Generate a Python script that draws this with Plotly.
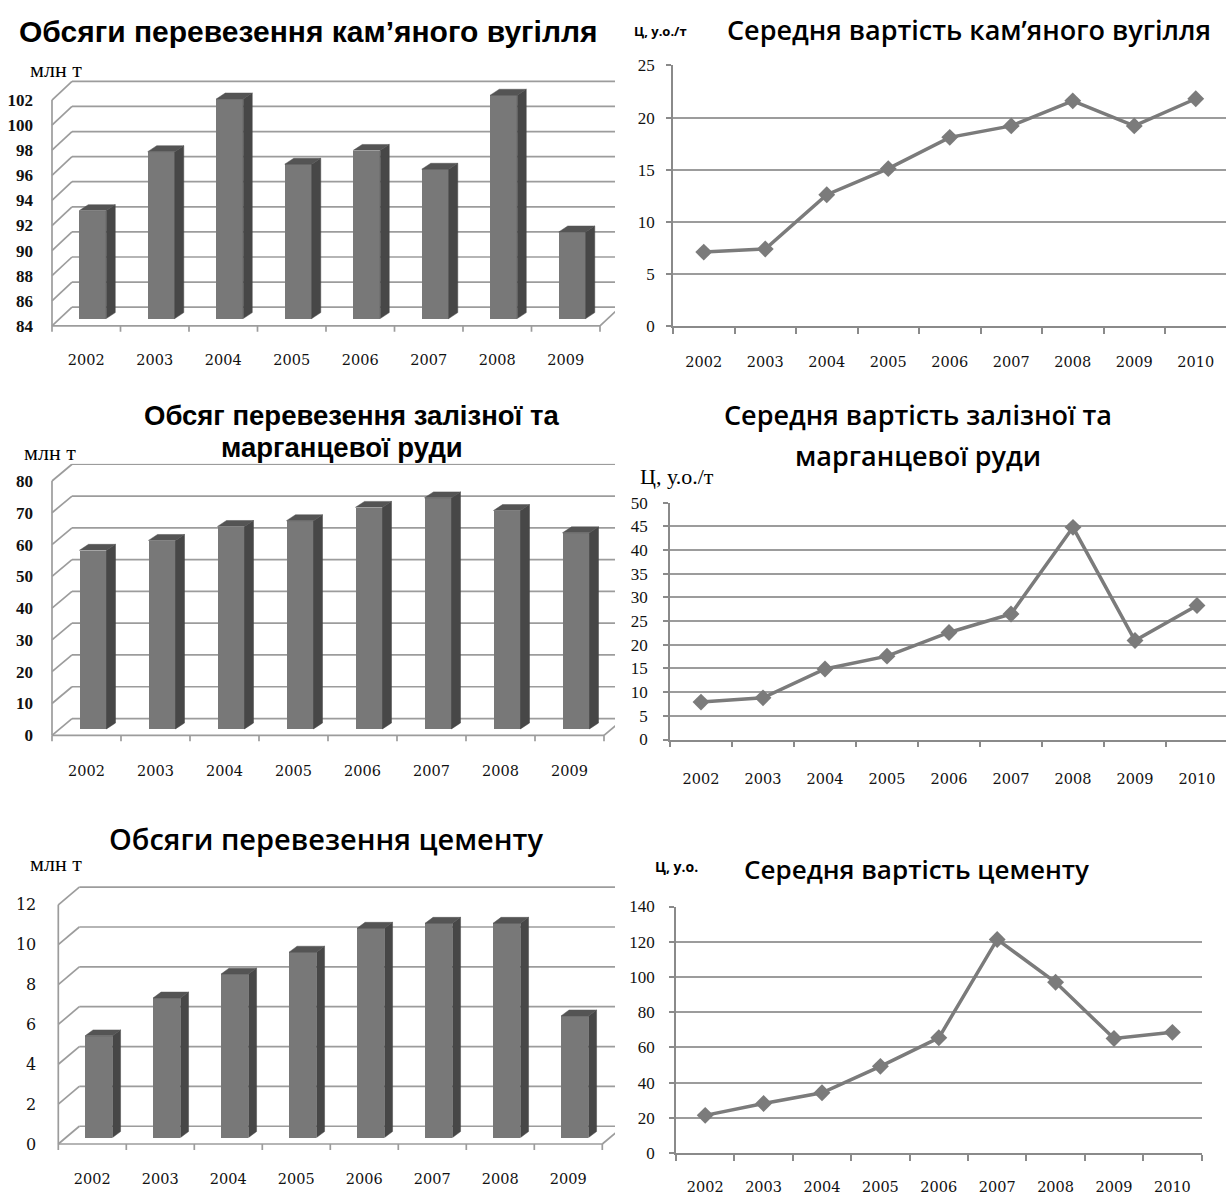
import plotly.graph_objects as go

W, H = 1226, 1196

# ---------------- data ----------------
years_8 = ["2002", "2003", "2004", "2005", "2006", "2007", "2008", "2009"]
years_9 = ["2002", "2003", "2004", "2005", "2006", "2007", "2008", "2009", "2010"]

coal_volume = [92.6, 97.3, 101.5, 96.3, 97.4, 95.9, 101.8, 90.9]
coal_volume_ticks = [84, 86, 88, 90, 92, 94, 96, 98, 100, 102]

coal_price = [7.1, 7.4, 12.6, 15.1, 18.1, 19.2, 21.6, 19.2, 21.8]
coal_price_ticks = [0, 5, 10, 15, 20, 25]

ore_volume = [56.2, 59.3, 63.7, 65.5, 69.7, 72.7, 68.7, 61.7]
ore_volume_ticks = [0, 10, 20, 30, 40, 50, 60, 70, 80]

ore_price = [7.9, 8.8, 14.9, 17.6, 22.6, 26.5, 44.8, 20.9, 28.3]
ore_price_ticks = [0, 5, 10, 15, 20, 25, 30, 35, 40, 45, 50]

cement_volume = [5.1, 7.0, 8.2, 9.3, 10.5, 10.75, 10.75, 6.1]
cement_volume_ticks = [0, 2, 4, 6, 8, 10, 12]

cement_price = [21.5, 28.2, 34.3, 49.3, 65.5, 121.3, 97.0, 65.1, 68.6]
cement_price_ticks = [0, 20, 40, 60, 80, 100, 120, 140]

# ---------------- styles ----------------
GRID = "#9c9c9c"
AXIS = "#8a8a8a"
SERIES = "#7b7b7b"
FRONT = "#787878"
SIDE = "#474747"
TOP = "#545454"

BOLD_SANS = "Liberation Sans"
HUMAN_SANS = "Open Sans"
SERIF = "Liberation Serif"
YEAR_FONT = dict(family="DejaVu Serif", size=14.5, color="#111")

fig = go.Figure()
layout = {}
shapes = []
annotations = []


def fx(p):
    return p / W


def fy(p):
    return 1 - p / H


def axis_names(n):
    if n == 1:
        return "x", "y", "xaxis", "yaxis"
    return f"x{n}", f"y{n}", f"xaxis{n}", f"yaxis{n}"


def bar3d(n, cats, vals, ticks, g, ytick_font, x_standoff, y_standoff):
    xa, ya, xk, yk = axis_names(n)
    L, R, w, B, T, k = g["L"], g["R"], g["w"], g["B"], g["T"], g["k"]
    bdx, bdy = g["back"][0] / w, g["back"][1] / k
    fdx, fdy = g["front"][0] / w, g["front"][1] / k
    sdx, sdy = g["side"][0] / w, g["side"][1] / k
    bw = g["barw"] / w
    y0 = ticks[0]
    pad_l, pad_b = 4, 9
    xmax = (R - L) / w
    ncat = len(cats)

    layout[xk] = dict(
        domain=[fx(L - pad_l), fx(R)], range=[-pad_l / w, xmax], anchor=ya,
        tickmode="array", tickvals=[i + 0.5 for i in range(ncat)], ticktext=cats,
        showline=False, showgrid=False, zeroline=False, ticks="",
        tickfont=YEAR_FONT, ticklabelstandoff=x_standoff, fixedrange=True,
    )
    layout[yk] = dict(
        domain=[fy(B + pad_b), fy(T)], range=[y0 - pad_b / k, y0 + (B - T) / k],
        anchor=xa, tickmode="array", tickvals=ticks, ticktext=[str(t) for t in ticks],
        showline=False, showgrid=False, zeroline=False, ticks="",
        tickfont=ytick_font, ticklabelstandoff=y_standoff, fixedrange=True,
    )

    def seg(x0, y0_, x1, y1):
        shapes.append(dict(type="line", xref=xa, yref=ya, x0=x0, y0=y0_, x1=x1, y1=y1,
                           layer="below", line=dict(color=GRID, width=1.7)))

    for v in ticks:
        seg(bdx, v + bdy, xmax + 1, v + bdy)      # back wall grid line
        seg(0, v, bdx, v + bdy)                   # side wall diagonal
    seg(0, y0, 0, ticks[-1])                      # front vertical edge
    seg(0, y0, ncat, y0)                          # floor front edge
    seg(ncat, y0, ncat + bdx, y0 + bdy)           # floor right edge
    for i in range(ncat + 1):
        seg(i, y0, i, y0 - 6 / k)                 # category tick marks

    base = y0 + fdy
    xs = [i + 0.5 + fdx for i in range(ncat)]
    fig.add_trace(go.Bar(
        x=xs, y=[v - y0 for v in vals], base=base, width=bw,
        marker=dict(color=FRONT, line=dict(width=0)),
        xaxis=xa, yaxis=ya, showlegend=False, hoverinfo="skip",
    ))
    sx, sy, tx, ty = [], [], [], []
    for xc, v in zip(xs, vals):
        xl, xr = xc - bw / 2, xc + bw / 2
        yb, yt = base, base + (v - y0)
        sx += [xr, xr + sdx, xr + sdx, xr, xr, None]
        sy += [yb, yb + sdy, yt + sdy, yt, yb, None]
        tx += [xl, xl + sdx, xr + sdx, xr, xl, None]
        ty += [yt, yt + sdy, yt + sdy, yt, yt, None]
    for px_, py_, col in ((sx, sy, SIDE), (tx, ty, TOP)):
        fig.add_trace(go.Scatter(
            x=px_, y=py_, mode="lines", fill="toself", fillcolor=col,
            line=dict(width=0.5, color=col), xaxis=xa, yaxis=ya,
            showlegend=False, hoverinfo="skip",
        ))


def line2d(n, cats, vals, ticks, g, ytick_font, x_standoff, y_standoff):
    xa, ya, xk, yk = axis_names(n)
    L, R, w, B, T = g["L"], g["R"], g["w"], g["B"], g["T"]
    ncat = len(cats)
    layout[xk] = dict(
        domain=[fx(L), min(1.0, fx(R))], range=[0, (R - L) / w], anchor=ya,
        tickmode="array", tickvals=[i + 0.5 for i in range(ncat)], ticktext=cats,
        showline=True, linecolor=AXIS, linewidth=1.5, showgrid=False, zeroline=False,
        ticks="", tickfont=YEAR_FONT, ticklabelstandoff=x_standoff,
        minor=dict(tickmode="array", tickvals=list(range(ncat + 1)), ticks="outside",
                   ticklen=6, tickwidth=1.5, tickcolor=AXIS, showgrid=False),
        fixedrange=True,
    )
    layout[yk] = dict(
        domain=[fy(B), fy(T)], range=[ticks[0], ticks[-1]], anchor=xa,
        tickmode="array", tickvals=ticks, ticktext=[str(t) for t in ticks],
        showline=True, linecolor=AXIS, linewidth=1.5, showgrid=True, gridcolor=GRID,
        gridwidth=1.5, zeroline=False, ticks="outside", ticklen=5, tickwidth=1.5,
        tickcolor=AXIS, tickfont=ytick_font, ticklabelstandoff=y_standoff, fixedrange=True,
    )
    fig.add_trace(go.Scatter(
        x=[i + 0.5 for i in range(ncat)], y=vals, mode="lines+markers",
        line=dict(color=SERIES, width=3.5),
        marker=dict(symbol="diamond", size=13, color=SERIES),
        xaxis=xa, yaxis=ya, showlegend=False, cliponaxis=False,
    ))


def text(s, cx, cy, family, size, weight="normal", color="#000"):
    annotations.append(dict(
        text=s, x=fx(cx), y=fy(cy), xref="paper", yref="paper",
        xanchor="center", yanchor="middle", showarrow=False,
        font=dict(family=family, size=size, color=color, weight=weight),
    ))


# ---------------- chart 1: coal volume ----------------
bar3d(1, years_8, coal_volume, coal_volume_ticks,
      dict(L=52, R=615, w=68.5, B=322, T=72, k=12.75, back=(20, 19),
           front=(6.5, 7.5), barw=27, side=(9, 6)),
      dict(family=SERIF, size=17, color="#111", weight="bold"), 15, 14)
text("Обсяги перевезення кам’яного вугілля", 308, 23, BOLD_SANS, 30, "bold")
text("млн т", 56, 61, SERIF, 22)

# ---------------- chart 2: coal price ----------------
line2d(2, years_9, coal_price, coal_price_ticks,
       dict(L=673, R=1226, w=61.5, B=322.3, T=57.3),
       dict(family=SERIF, size=17, color="#111"), 22, 8)
text("Середня вартість кам’яного вугілля", 969, 21, HUMAN_SANS, 27, 600)
text("Ц, у.о./т", 660, 22, HUMAN_SANS, 13, "bold")

# ---------------- chart 3: ore volume ----------------
bar3d(3, years_8, ore_volume, ore_volume_ticks,
      dict(L=52, R=615, w=69, B=738, T=462, k=3.23, back=(20, 17),
           front=(6.5, 6.5), barw=27, side=(9, 6)),
      dict(family=SERIF, size=17, color="#111", weight="bold"), 16, 14)
text("Обсяг перевезення залізної та", 351, 413, BOLD_SANS, 27.5, "bold")
text("марганцевої руди", 342, 446, BOLD_SANS, 27.5, "bold")
text("млн т", 50, 451, SERIF, 22)

# ---------------- chart 4: ore price ----------------
line2d(4, years_9, ore_price, ore_price_ticks,
       dict(L=670, R=1226, w=62, B=742.3, T=501.7),
       dict(family=SERIF, size=17, color="#111"), 25, 12)
text("Середня вартість залізної та", 918, 412, HUMAN_SANS, 27, 600)
text("марганцевої руди", 918, 454, HUMAN_SANS, 27, 600)
text("Ц, у.о./т", 677, 475, SERIF, 22)

# ---------------- chart 5: cement volume ----------------
bar3d(5, years_8, cement_volume, cement_volume_ticks,
      dict(L=58.3, R=615, w=68, B=1153.3, T=891, k=20.25, back=(21, 18),
           front=(6.5, 6.6), barw=27.5, side=(8, 6)),
      dict(family="DejaVu Serif", size=16, color="#111"), 16, 17)
text("Обсяги перевезення цементу", 326, 843, HUMAN_SANS, 29, 600)
text("млн т", 56, 868, SERIF, 22)

# ---------------- chart 6: cement price ----------------
line2d(6, years_9, cement_price, cement_price_ticks,
       dict(L=676, R=676 + 9 * 58.4, w=58.4, B=1162.7, T=912),
       dict(family=SERIF, size=17, color="#111"), 20, 11)
text("Середня вартість цементу", 917, 874, HUMAN_SANS, 26, 600)
text("Ц, у.о.", 676, 871, HUMAN_SANS, 14, "bold")

fig.update_layout(
    width=W, height=H, autosize=False,
    margin=dict(l=0, r=0, t=0, b=0, pad=0),
    paper_bgcolor="white", plot_bgcolor="rgba(0,0,0,0)",
    showlegend=False, bargap=0,
    shapes=shapes, annotations=annotations,
    **layout,
)

fig.write_html(
    "out.html",
    config={"displayModeBar": False},
    post_script=("document.body.style.margin='0';"
                 "document.documentElement.style.margin='0';"
                 "document.body.style.overflow='hidden';"),
)
